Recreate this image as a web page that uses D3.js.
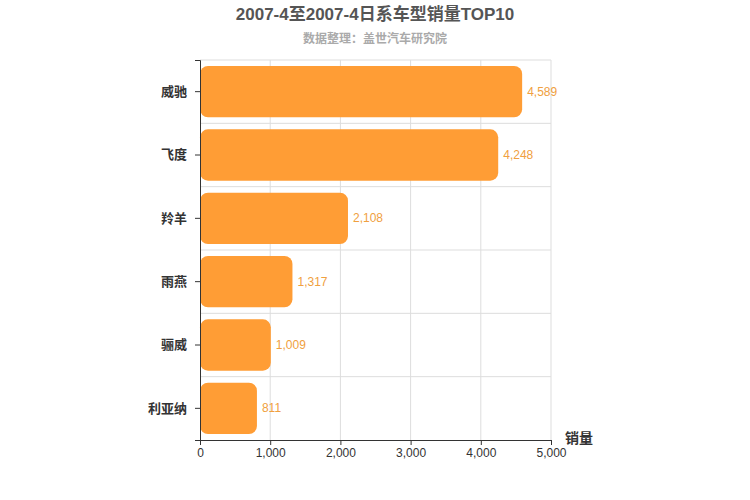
<!DOCTYPE html><html><head><meta charset="utf-8"><script src="https://cdn.jsdelivr.net/npm/d3@7"></script>
<style>body{margin:0;background:#fff}text{font-family:"Liberation Sans","Noto Sans CJK SC",sans-serif}</style></head><body>
<svg id="c" width="750" height="500"></svg>
<script>
const categories=["威驰","飞度","羚羊","雨燕","獅威","利亚纳"];
categories[4]="骊威";
const values=[4589,4248,2108,1317,1009,811];
const ticks=[0,1000,2000,3000,4000,5000];
const svg=d3.select("#c");
const L=200,R=551,T=60,B=440;
const x=d3.scaleLinear().domain([0,5000]).range([L,R]);
const y=d3.scaleBand().domain(categories).range([T,B]);
svg.append("g").selectAll("line").data(ticks.slice(1)).join("line").attr("x1",d=>x(d)).attr("x2",d=>x(d)).attr("y1",T).attr("y2",B).attr("stroke","#ddd");
svg.append("g").selectAll("line").data(categories.slice(1)).join("line").attr("x1",L).attr("x2",R).attr("y1",d=>y(d)).attr("y2",d=>y(d)).attr("stroke","#ddd");
svg.append("line").attr("x1",L).attr("x2",R).attr("y1",T).attr("y2",T).attr("stroke","#ddd");
svg.append("g").selectAll("rect").data(values).join("rect").attr("x",L).attr("y",(d,i)=>y(categories[i])+6).attr("height",y.bandwidth()-12).attr("width",d=>x(d)-L).attr("rx",8).attr("fill","#ff9d35");
svg.append("g").selectAll("text").data(values).join("text").attr("x",d=>x(d)+5).attr("y",(d,i)=>y(categories[i])+y.bandwidth()/2+4).attr("fill","#f0a040").attr("font-size",12).text(d3.format(","));
const xa=svg.append("g").attr("transform",`translate(0,${B})`).call(d3.axisBottom(x).tickValues(ticks).tickFormat(d3.format(",")).tickSize(5));
xa.select(".domain").attr("stroke","#333");xa.selectAll("line").attr("stroke","#333");xa.selectAll("text").attr("fill","#333").attr("font-size",12);
const ya=svg.append("g").attr("transform",`translate(${L},0)`).call(d3.axisLeft(y).tickSize(5).tickPadding(8));
ya.select(".domain").attr("stroke","#333");ya.selectAll("line").attr("stroke","#333");ya.selectAll("text").attr("fill","#333").attr("font-size",13).attr("font-weight","bold");
svg.append("text").attr("x",375).attr("y",20).attr("text-anchor","middle").attr("font-size",17).attr("font-weight","bold").attr("fill","#555").text("2007-4至2007-4日系车型销量TOP10");
svg.append("text").attr("x",375).attr("y",43).attr("text-anchor","middle").attr("font-size",12).attr("font-weight","bold").attr("fill","#aaa").text("数据整理：盖世汽车研究院");
svg.append("text").attr("x",565).attr("y",443).attr("font-size",14).attr("font-weight","bold").attr("fill","#333").text("销量");
</script></body></html>
